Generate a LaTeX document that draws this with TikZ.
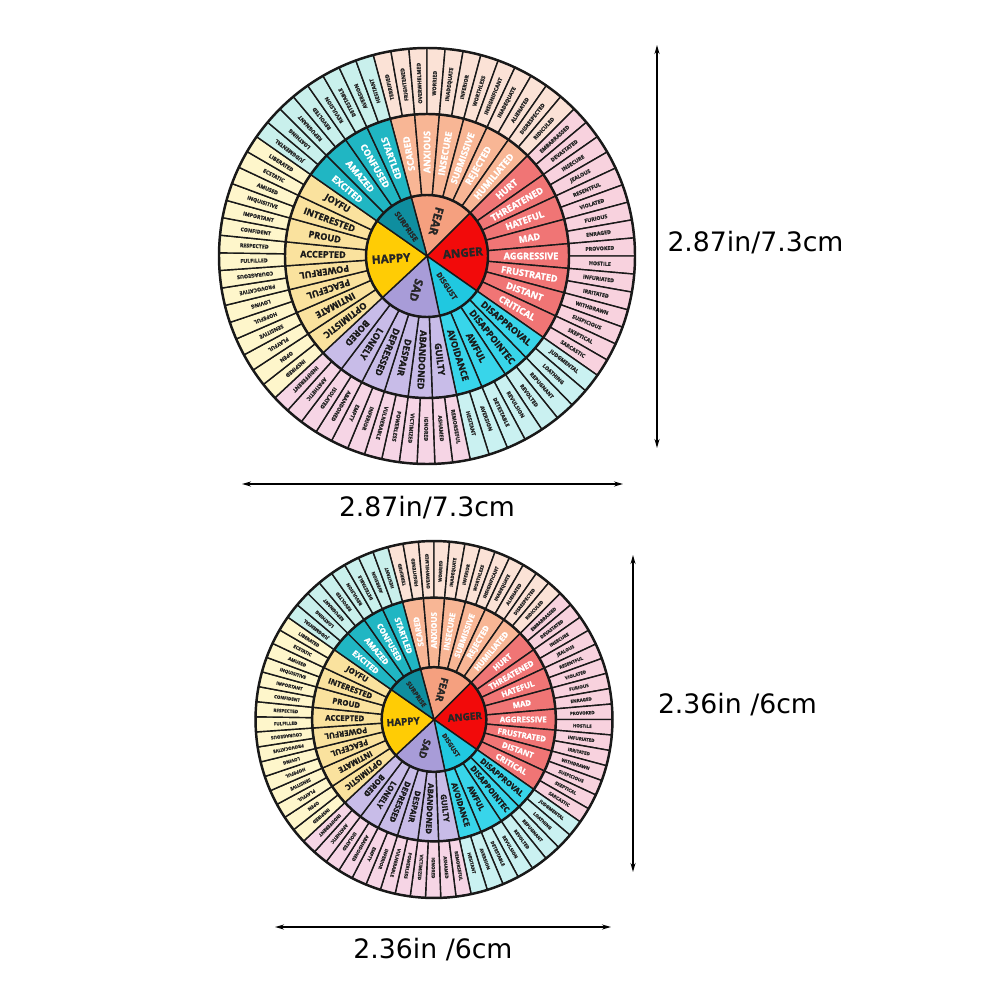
\documentclass[tikz,border=0pt]{standalone}
\usepackage{fontspec}
\newfontfamily\wheelfont[BoldFeatures={FakeBold=1.5}]{Open Sans}
\newfontfamily\dimfont{DejaVu Sans}
\usetikzlibrary{arrows.meta}

\definecolor{fearC}{HTML}{F5A07F}
\definecolor{fearM}{HTML}{F8B695}
\definecolor{fearO}{HTML}{FBE2D6}
\definecolor{fearT}{HTML}{FFFFFF}
\definecolor{angerC}{HTML}{F20A0A}
\definecolor{angerM}{HTML}{F07575}
\definecolor{angerO}{HTML}{F8D2DE}
\definecolor{angerT}{HTML}{FFFFFF}
\definecolor{disgustC}{HTML}{20C8E0}
\definecolor{disgustM}{HTML}{38D5EA}
\definecolor{disgustO}{HTML}{CAF1F1}
\definecolor{disgustT}{HTML}{1A1A1A}
\definecolor{sadC}{HTML}{A89CD8}
\definecolor{sadM}{HTML}{C8BCE8}
\definecolor{sadO}{HTML}{F6D5E5}
\definecolor{sadT}{HTML}{1A1A1A}
\definecolor{happyC}{HTML}{FFCC05}
\definecolor{happyM}{HTML}{FAE29E}
\definecolor{happyO}{HTML}{FEF6CB}
\definecolor{happyT}{HTML}{1A1A1A}
\definecolor{surpriseC}{HTML}{0F8E9F}
\definecolor{surpriseM}{HTML}{20B6C3}
\definecolor{surpriseO}{HTML}{C9F0EC}
\definecolor{surpriseT}{HTML}{FFFFFF}

\tikzset{
  cellline/.style={draw=black!90, line width=0.4pt},
  ringline/.style={draw=black!90, line width=0.7pt},
  corelbl/.style={text=black!85},
  midlbl/.style={font=\wheelfont\bfseries\fontsize{2.6}{2.6}\selectfont},
  outlbl/.style={text=black!85, font=\wheelfont\bfseries\fontsize{1.5}{1.5}\selectfont},
  dimline/.style={line width=0.45pt, {Stealth[length=0.9mm,width=0.5mm]}-{Stealth[length=0.9mm,width=0.5mm]}},
  dimlbl/.style={font=\dimfont\fontsize{7.6}{7.6}\selectfont, inner sep=0pt}
}
\newcommand{\corebig}{\wheelfont\bfseries\fontsize{3.3}{3.3}\selectfont}
\newcommand{\coresmall}{\wheelfont\bfseries\fontsize{2.1}{2.1}\selectfont}

\newcommand{\wcell}[8]{%
  \filldraw[cellline, fill=#5] (#3:#1) arc[start angle=#3, end angle=#4, radius=#1]
    -- (#4:#2) arc[start angle=#4, end angle=#3, radius=#2] -- cycle;
  \pgfmathsetmacro{\wmid}{(#3+#4)/2}
  \pgfmathsetmacro{\wrot}{\wmid+180*and(\wmid>\flo,\wmid<\fhi)}
  \node[#7, inner sep=0pt, rotate=\wrot] at (\wmid:#8) {#6};
}

\newcommand{\wgroup}[7]{%
  \pgfmathsetmacro{\gstep}{(#1-#2)/#7}
  \def\flo{60}\def\fhi{200}
  \wcell{0.001}{0.61}{#1}{#2}{#3C}{#4}{corelbl}{0.36}
  \def\flo{102}\def\fhi{184}
  \foreach \w [count=\i] in {#5}{
    \pgfmathsetmacro{\ca}{#1-(\i-1)*\gstep}
    \pgfmathsetmacro{\cb}{#1-\i*\gstep}
    \wcell{0.61}{1.42}{\ca}{\cb}{#3M}{\w}{midlbl,text=#3T}{1.04}
  }
  \def\flo{145}\def\fhi{184}
  \foreach \w [count=\i] in {#6}{
    \pgfmathsetmacro{\ca}{#1-(\i-1)*\gstep/2}
    \pgfmathsetmacro{\cb}{#1-\i*\gstep/2}
    \wcell{1.42}{2.08}{\ca}{\cb}{#3O}{\w}{outlbl}{1.73}
  }
}

\newcommand{\feelwheel}{%
  \wgroup{105}{45}{fear}{\corebig FEAR}
    {SCARED,ANXIOUS,INSECURE,SUBMISSIVE,REJECTED,HUMILIATED}
    {TERRIFIED,FRIGHTENED,OVERWHELMED,WORRIED,INADEQUATE,INFERIOR,WORTHLESS,INSIGNIFICANT,INADEQUATE,ALIENATED,DISRESPECTED,RIDICULED}{6}
  \wgroup{45}{-35}{anger}{\corebig ANGER}
    {HURT,THREATENED,HATEFUL,MAD,AGGRESSIVE,FRUSTRATED,DISTANT,CRITICAL}
    {EMBARRASSED,DEVASTATED,INSECURE,JEALOUS,RESENTFUL,VIOLATED,FURIOUS,ENRAGED,PROVOKED,HOSTILE,INFURIATED,IRRITATED,WITHDRAWN,SUSPICIOUS,SKEPTICAL,SARCASTIC}{8}
  \wgroup{325}{282}{disgust}{\coresmall DISGUST}
    {DISAPPROVAL,DISAPPOINTEC,AWFUL,AVOIDANCE}
    {JUDGMENTAL,LOATHING,REPUGNANT,REVOLTED,REVULSION,DETESTABLE,AVERSION,HESITANT}{4}
  \wgroup{282}{223}{sad}{\corebig SAD}
    {GUILTY,ABANDONED,DESPAIR,DEPRESSED,LONELY,BORED}
    {REMORSEFUL,ASHAMED,IGNORED,VICTIMIZED,POWERLESS,VULNERABLE,INFERIOR,EMPTY,ABANDONED,ISOLATED,APATHETIC,INDIFFERENT}{6}
  \wgroup{223}{145}{happy}{\corebig HAPPY}
    {OPTIMISTIC,INTIMATE,PEACEFUL,POWERFUL,ACCEPTED,PROUD,INTERESTED,JOYFU}
    {INSPIRED,OPEN,PLAYFUL,SENSITIVE,HOPEFUL,LOVING,PROVOCATIVE,COURAGEOUS,FULFILLED,RESPECTED,CONFIDENT,IMPORTANT,INQUISITIVE,AMUSED,ECSTATIC,LIBERATED}{8}
  \wgroup{145}{105}{surprise}{\coresmall SURPRISE}
    {EXCITED,AMAZED,CONFUSED,STARTLED}
    {JUDGMENTAL,LOATHING,REPUGNANT,REVOLTED,REVULSION,DETESTABLE,AVERSION,HESITANT}{4}
  \draw[ringline] (0,0) circle (0.61) (0,0) circle (1.42) (0,0) circle (2.08);
}

\begin{document}
\begin{tikzpicture}
  \fill[white] (0,0) rectangle (10.02,-10.02);
  \useasboundingbox (0,0) rectangle (10.02,-10.02);

  \begin{scope}[shift={(4.27,-2.56)}, transform shape]
    \feelwheel
  \end{scope}
  \begin{scope}[shift={(4.34,-7.195)}, scale=0.858, transform shape]
    \feelwheel
  \end{scope}

  \coordinate (topL) at (2.42,-4.84);
  \coordinate (topR) at (6.23,-4.84);
  \coordinate (topU) at (6.57,-0.45);
  \coordinate (topD) at (6.57,-4.48);
  \draw[dimline] (topL) -- (topR);
  \draw[dimline] (topU) -- (topD);
  \node[dimlbl] (topW) at (4.27,-5.08) {2.87in/7.3cm};
  \node[dimlbl] (topH) at (7.555,-2.43) {2.87in/7.3cm};

  \coordinate (botL) at (2.75,-9.27);
  \coordinate (botR) at (6.11,-9.27);
  \coordinate (botU) at (6.33,-5.55);
  \coordinate (botD) at (6.33,-8.72);
  \draw[dimline] (botL) -- (botR);
  \draw[dimline] (botU) -- (botD);
  \node[dimlbl] (botW) at (4.33,-9.50) {2.36in /6cm};
  \node[dimlbl] (botH) at (7.375,-7.05) {2.36in /6cm};
\end{tikzpicture}
\end{document}
